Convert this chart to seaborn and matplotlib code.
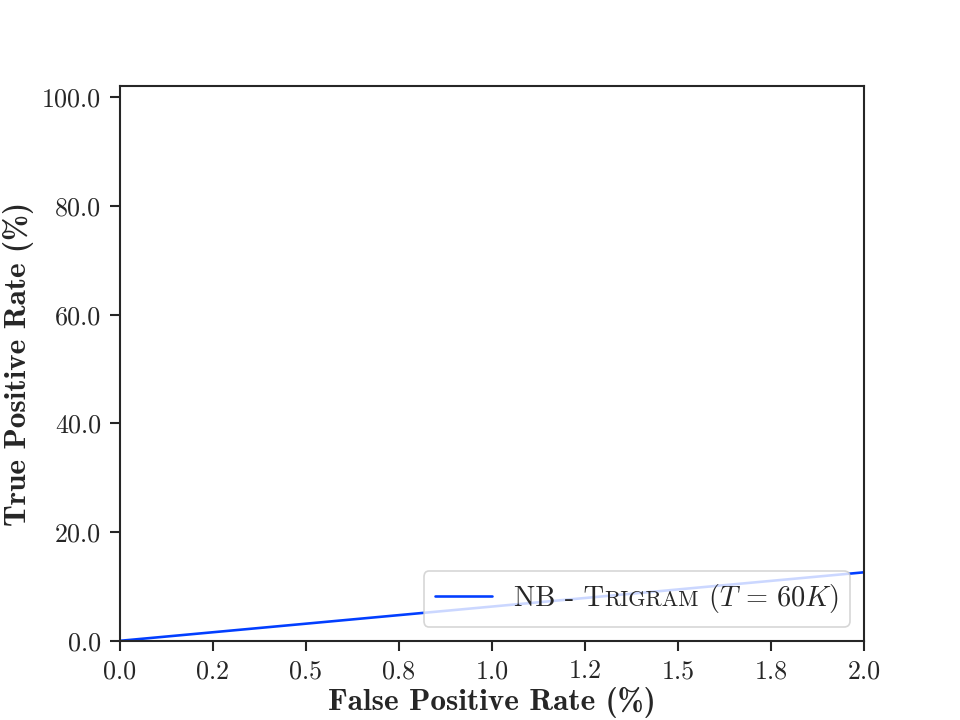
import numpy as np
import pandas as pd
import seaborn as sns
import matplotlib
matplotlib.use('Agg')
import matplotlib.pyplot as plt
from matplotlib.ticker import FormatStrFormatter
from matplotlib.offsetbox import TextArea, HPacker

# ROC curve points (in %)
fpr = [0.0, 2.0]
tpr = [0.0, 12.6]
# legend label pieces: "NB - Trigram (T=60K)" with Trigram in small caps
label_head = 'NB - T'
label_caps = 'RIGRAM'
label_tail = r' ($T\,=\,60K$)'

x_ticks = [0.0, 0.25, 0.5, 0.75, 1.0, 1.25, 1.5, 1.75, 2.0]
y_ticks = [0, 20, 40, 60, 80, 100]

sns.set_theme(style='ticks', context='paper', font_scale=1.25, palette='bright')
plt.rcParams['font.family'] = ['cmr10', 'DejaVu Serif']
plt.rcParams['mathtext.fontset'] = 'cm'
plt.rcParams['axes.unicode_minus'] = False
plt.rcParams['axes.formatter.use_mathtext'] = True

df = pd.DataFrame({'fpr': fpr, 'tpr': tpr})

fig, ax = plt.subplots(figsize=(6.4, 4.8), dpi=150)
sns.lineplot(x='fpr', y='tpr', data=df, ax=ax,
             label=label_head + label_caps + label_tail, linewidth=1.25)

ax.set_xlim(0, 2.0)
ax.set_ylim(0, 102)
ax.set_xticks(x_ticks)
ax.set_yticks(y_ticks)
ax.xaxis.set_major_formatter(FormatStrFormatter('%.1f'))
ax.yaxis.set_major_formatter(FormatStrFormatter('%.1f'))
ax.tick_params(labelsize=12.5, length=5, pad=4)

ax.set_xlabel('False Positive Rate (%)', fontfamily='cmb10', fontsize=15, labelpad=2)
ax.set_ylabel('True Positive Rate (%)', fontfamily='cmb10', fontsize=15)

leg_size = 13.6
leg = ax.legend(loc='lower right', fontsize=leg_size, handlelength=2.0)

# swap the plain label for one with small caps
item = leg._legend_handle_box.get_children()[0].get_children()[0]
pieces = [
    TextArea(label_head, textprops=dict(fontsize=leg_size, color='.15')),
    TextArea(label_caps, textprops=dict(fontsize=leg_size * 0.78, color='.15')),
    TextArea(label_tail, textprops=dict(fontsize=leg_size, color='.15')),
]
label_box = HPacker(children=pieces, sep=0, pad=0, align='baseline')
label_box.set_figure(fig)
for p in pieces:
    p.set_figure(fig)
    p._text.set_figure(fig)
children = item.get_children()
children[1] = label_box

fig.savefig('out.png', dpi=150)
